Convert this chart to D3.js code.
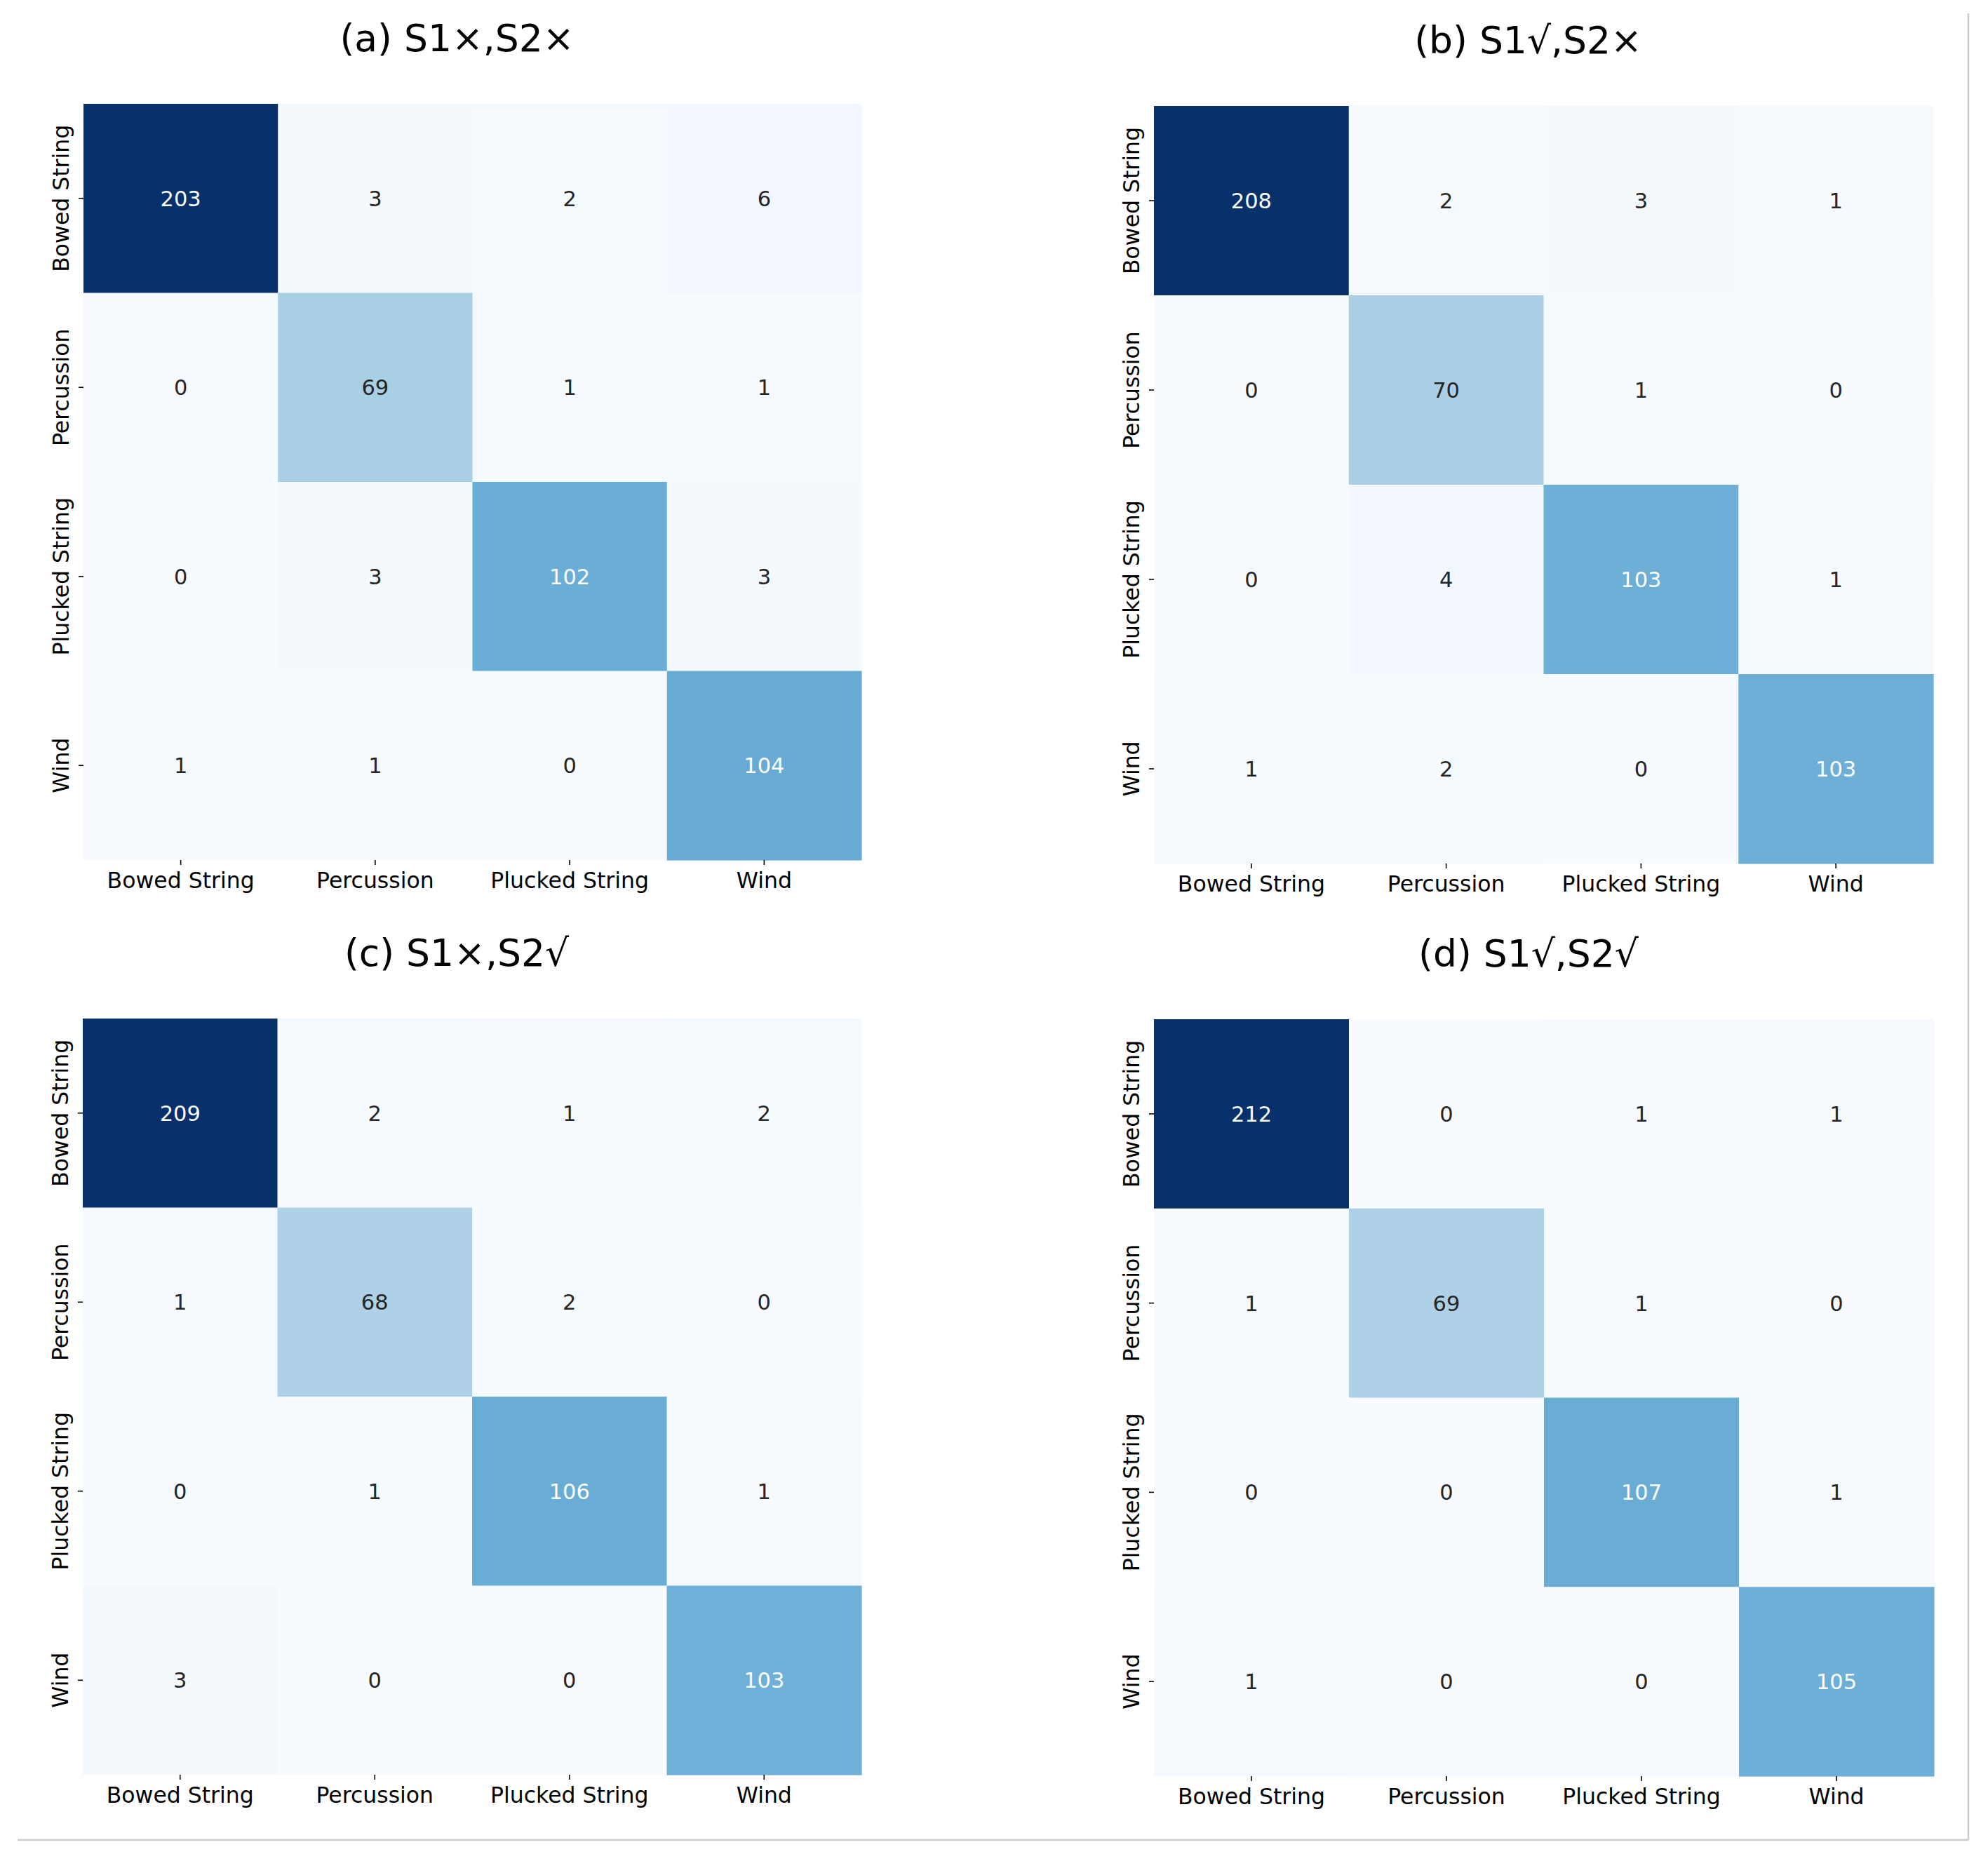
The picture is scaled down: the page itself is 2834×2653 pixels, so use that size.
<!DOCTYPE html>
<html>
<head>
<meta charset="utf-8">
<script src="https://cdn.jsdelivr.net/npm/d3@7"></script>
<style>
  body { margin: 0; background: #fff; }
  svg { display: block; font-family: "DejaVu Sans", sans-serif; }
</style>
</head>
<body>
<svg id="drawing_region"></svg>
<script>
// class labels (rows = true, cols = predicted)
const classes = ['Bowed String', 'Percussion', 'Plucked String', 'Wind'];

const titles = ['(a) S1×,S2×', '(b) S1√,S2×', '(c) S1×,S2√', '(d) S1√,S2√'];

const matA = [[203, 3, 2, 6], [0, 69, 1, 1], [0, 3, 102, 3], [1, 1, 0, 104]];
const matB = [[208, 2, 3, 1], [0, 70, 1, 0], [0, 4, 103, 1], [1, 2, 0, 103]];
const matC = [[209, 2, 1, 2], [1, 68, 2, 0], [0, 1, 106, 1], [3, 0, 0, 103]];
const matD = [[212, 0, 1, 1], [1, 69, 1, 0], [0, 0, 107, 1], [1, 0, 0, 105]];

// matplotlib "Blues" stops
const blues = ['#f7fbff', '#deebf7', '#c6dbef', '#9ecae1', '#6baed6',
               '#4292c6', '#2171b5', '#08519c', '#08306b'];

const W = 2834, H = 2653;

const svg = d3.select('#drawing_region')
    .attr('width', W)
    .attr('height', H);

svg.append('rect').attr('width', W).attr('height', H).attr('fill', '#fff');

// light frame remains (bottom and right edges)
svg.append('line')
    .attr('x1', 25).attr('x2', 2806).attr('y1', 2623).attr('y2', 2623)
    .attr('stroke', '#cccccc').attr('stroke-width', 2.5);
svg.append('line')
    .attr('x1', 2806).attr('x2', 2806).attr('y1', 19).attr('y2', 2623)
    .attr('stroke', '#cccccc').attr('stroke-width', 2.5);

const panels = [
    { mat: matA, x: 119,  y: 148,  w: 1109, h: 1078 },
    { mat: matB, x: 1645, y: 151,  w: 1111, h: 1080 },
    { mat: matC, x: 118,  y: 1452, w: 1110, h: 1078 },
    { mat: matD, x: 1645, y: 1453, w: 1112, h: 1079 }
];

function luminance(c) {
    const rgb = d3.rgb(c);
    const lin = v => {
        v = v / 255;
        return v <= 0.03928 ? v / 12.92 : Math.pow((v + 0.055) / 1.055, 2.4);
    };
    return 0.2126 * lin(rgb.r) + 0.7152 * lin(rgb.g) + 0.0722 * lin(rgb.b);
}

panels.forEach((p, pi) => {
    const g = svg.append('g')
        .attr('transform', `translate(${p.x}, ${p.y})`);

    const xs = d3.scaleBand().domain(classes).range([0, p.w]).padding(0);
    const ys = d3.scaleBand().domain(classes).range([0, p.h]).padding(0);

    const vmax = d3.max(p.mat.flat());
    const vmin = d3.min(p.mat.flat());
    const color = d3.scaleLinear()
        .domain(blues.map((_, i) => vmin + (vmax - vmin) * i / (blues.length - 1)))
        .range(blues)
        .interpolate(d3.interpolateRgb)
        .clamp(true);

    const cells = [];
    p.mat.forEach((row, r) => row.forEach((v, c) => {
        cells.push({ r: classes[r], c: classes[c], v: v });
    }));

    g.selectAll('rect.cell')
        .data(cells)
        .enter()
        .append('rect')
        .attr('class', 'cell')
        .attr('x', d => xs(d.c))
        .attr('y', d => ys(d.r))
        .attr('width', xs.bandwidth() + 0.6)
        .attr('height', ys.bandwidth() + 0.6)
        .attr('fill', d => color(d.v));

    g.selectAll('text.annot')
        .data(cells)
        .enter()
        .append('text')
        .attr('class', 'annot')
        .attr('x', d => xs(d.c) + xs.bandwidth() / 2)
        .attr('y', d => ys(d.r) + ys.bandwidth() / 2)
        .attr('dy', '0.36em')
        .attr('text-anchor', 'middle')
        .attr('font-size', 30.5)
        .attr('fill', d => luminance(color(d.v)) > 0.408 ? '#262626' : '#ffffff')
        .text(d => d.v);

    // x axis
    const xAxis = g.append('g')
        .attr('transform', `translate(0, ${p.h})`)
        .call(d3.axisBottom(xs).tickSize(7).tickPadding(11));
    xAxis.select('.domain').remove();
    xAxis.selectAll('line').attr('stroke', '#000').attr('stroke-width', 1.6);
    xAxis.selectAll('text')
        .attr('font-size', 31.5)
        .attr('font-family', '"DejaVu Sans", sans-serif')
        .attr('fill', '#000');

    // y axis, labels rotated
    const yAxis = g.append('g')
        .call(d3.axisLeft(ys).tickSize(7));
    yAxis.select('.domain').remove();
    yAxis.selectAll('line').attr('stroke', '#000').attr('stroke-width', 1.6);
    yAxis.selectAll('text')
        .attr('x', null)
        .attr('dy', null)
        .attr('text-anchor', 'middle')
        .attr('transform', 'translate(-21, 0) rotate(-90)')
        .attr('font-size', 31.5)
        .attr('font-family', '"DejaVu Sans", sans-serif')
        .attr('fill', '#000');

    // title
    g.append('text')
        .attr('x', p.w / 2 - 22)
        .attr('y', -75)
        .attr('text-anchor', 'middle')
        .attr('font-size', 53.5)
        .attr('fill', '#000')
        .text(titles[pi]);
});
</script>
</body>
</html>
